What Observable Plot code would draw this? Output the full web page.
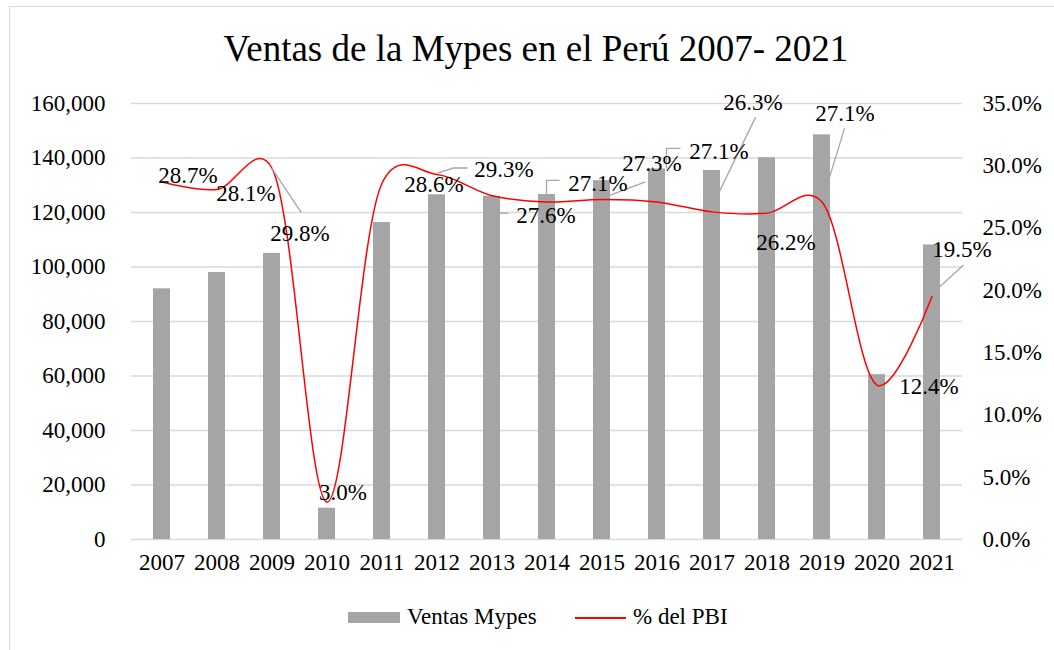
<!DOCTYPE html>
<html>
<head>
<meta charset="utf-8">
<script src="https://cdn.jsdelivr.net/npm/d3@7"></script>
<script src="https://cdn.jsdelivr.net/npm/@observablehq/plot@0.6"></script>
<style>
  html, body { margin: 0; padding: 0; background: #fff; overflow: hidden; }
  #wrap { position: relative; width: 1054px; height: 650px; font-family: "Liberation Serif", "Times New Roman", serif; color: #000; }
  #frame { position: absolute; left: 9px; top: 6px; width: 1100px; height: 700px; border: 1px solid #d9d9d9; box-sizing: border-box; }
  #title { position: absolute; left: 9px; width: 1054px; top: 24px; text-align: center; font-size: 37px; line-height: 50px; white-space: nowrap; }
  #chart { position: absolute; left: 0; top: 90px; }
  #chart svg, #chart svg text { font-family: "Liberation Serif", "Times New Roman", serif !important; }
  .lg { position: absolute; font-size: 23px; line-height: 30px; white-space: nowrap; }
</style>
</head>
<body>
<div id="wrap">
  <div id="frame"></div>
  <div id="title">Ventas de la Mypes en el Perú 2007- 2021</div>
  <div id="chart"></div>
  <div id="legend">
    <div style="position:absolute;left:348px;top:612px;width:52px;height:11px;background:#a5a5a5"></div>
    <div class="lg" style="left:407px;top:602px">Ventas Mypes</div>
    <div style="position:absolute;left:575px;top:617px;width:51px;height:2px;background:#ff0000"></div>
    <div class="lg" style="left:633px;top:602px">% del PBI</div>
  </div>
</div>
<script>
// ---- data ----
const years = ["2007","2008","2009","2010","2011","2012","2013","2014","2015","2016","2017","2018","2019","2020","2021"];
const ventasMypes = [92000, 98000, 105000, 11500, 116300, 126500, 126000, 126600, 131700, 136000, 135400, 140100, 148500, 60500, 108100];
const pctPBI = [28.7, 28.1, 29.8, 3.0, 28.6, 29.3, 27.6, 27.1, 27.3, 27.1, 26.3, 26.2, 27.1, 12.4, 19.5];
const leftTicks = [0, 20000, 40000, 60000, 80000, 100000, 120000, 140000, 160000];
const rightTicks = [0, 5, 10, 15, 20, 25, 30, 35];

// ---- layout (label offsets in px from each point, leader polylines in px) ----
const labelOffsets = [[26,-6],[29,4],[28,65],[16,-10],[52,1],[67,-5],[54,20],[51,-18],[50,-36],[62,-50],[41,-109],[19,30],[23,-88],[52,2],[30,-47]];
const leaderYears = ["2009","2012","2013","2014","2015","2016","2017","2019","2021"];
const leaderPaths = [
  [[0,0],[30,45]],
  [[1,-1],[17,-6],[31,-6]],
  [[8,18],[17,18]],
  [[0,-3],[0,-21],[13,-21]],
  [[4,-2],[44,-17]],
  [[10,-33],[10,-53],[24,-53]],
  [[7,-18],[44,-94]],
  [[8,-24],[23,-73]],
  [[8,-9],[32,-31]]
];

const K = 160000 / 35; // right-axis % -> left-axis units
const rows = years.map((y, i) => ({year: y, ventas: ventasMypes[i], pct: pctPBI[i], py: pctPBI[i] * K}));
const font = "Liberation Serif, Times New Roman, serif";

const leaderMark = (index, scales) => {
  const g = d3.create("svg:g").attr("fill", "none").attr("stroke", "#a6a6a6").attr("stroke-width", 1.3);
  const bw = scales.x.bandwidth ? scales.x.bandwidth() / 2 : 0;
  leaderYears.forEach((yr, j) => {
    const r = rows.find(d => d.year === yr);
    const x0 = scales.x(r.year) + bw, y0 = scales.y(r.py);
    g.append("polyline").attr("points", leaderPaths[j].map(([dx, dy]) => `${x0 + dx},${y0 + dy}`).join(" "));
  });
  return g.node();
};

const labelMarks = rows.map((r, i) => Plot.text([r], {
  x: "year", y: "py", text: d => d.pct.toFixed(1) + "%",
  dx: labelOffsets[i][0], dy: labelOffsets[i][1],
  fontSize: 23, fontFamily: font, fill: "#000", textAnchor: "middle", lineAnchor: "middle"
}));

const chart = Plot.plot({
  width: 1054,
  height: 500,
  marginTop: 13,
  marginBottom: 51,
  marginLeft: 131,
  marginRight: 92,
  style: {fontFamily: font, fontSize: "23px", color: "#000", background: "transparent", overflow: "visible"},
  x: {domain: years, paddingInner: 0.69, paddingOuter: 0.345, label: null},
  y: {domain: [0, 160000], label: null},
  marks: [
    Plot.gridY(leftTicks, {stroke: "#d9d9d9", strokeOpacity: 1, strokeWidth: 1.3}),
    Plot.barY(rows, {x: "year", y: "ventas", fill: "#a5a5a5"}),
    Plot.line(rows, {x: "year", y: "py", stroke: "#ff0000", strokeWidth: 1.5, curve: "catmull-rom", tension: 0.18}),
    leaderMark,
    ...labelMarks,
    Plot.axisY(leftTicks, {anchor: "left", tickSize: 0, tickPadding: 26, tickFormat: d3.format(","), fontSize: 23, fontFamily: font, label: null}),
    Plot.axisY(rightTicks.map(p => p * K), {anchor: "right", tickSize: 0, tickPadding: 20, tickFormat: d => (d / K).toFixed(1) + "%", fontSize: 23, fontFamily: font, label: null}),
    Plot.axisX({tickSize: 0, tickPadding: 14, fontSize: 23, fontFamily: font, label: null})
  ]
});
document.getElementById("chart").appendChild(chart);
</script>
</body>
</html>
